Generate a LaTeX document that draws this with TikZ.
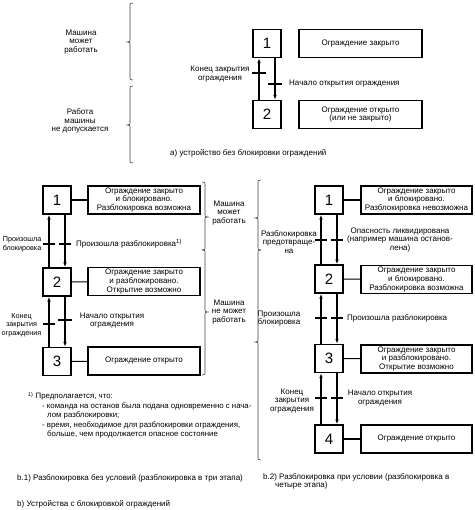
\documentclass[tikz,border=0pt]{standalone}
\usepackage{fontspec}
\setmainfont{Liberation Sans}
\usetikzlibrary{arrows.meta}
\newcommand\BrL[4]{\draw[brc] (#1+3,#2) .. controls (#1,#2) .. (#1,#2+4) -- (#1,#3-4) .. controls (#1,#3) .. (#1-3,#3) .. controls (#1,#3) .. (#1,#3+4) -- (#1,#4-4) .. controls (#1,#4) .. (#1+3,#4);}
\newcommand\BrR[4]{\draw[brc] (#1-3,#2) .. controls (#1,#2) .. (#1,#2+4) -- (#1,#3-4) .. controls (#1,#3) .. (#1+3,#3) .. controls (#1,#3) .. (#1,#3+4) -- (#1,#4-4) .. controls (#1,#4) .. (#1-3,#4);}
\begin{document}
\begin{tikzpicture}[x=1pt,y=-1pt,
  every node/.style={font=\fontsize{8}{8.7}\selectfont, inner sep=0pt},
  stepbox/.style={draw, line width=1.3pt, minimum width=28pt, minimum height=28pt, font=\fontsize{15}{15}\selectfont},
  txtbox/.style={draw, line width=1.3pt, minimum height=28pt, align=center},
  lbl/.style={align=center},
  small/.style={font=\fontsize{7.2}{8.7}\selectfont},
  arr/.style={line width=1.2pt, -{Latex[length=5pt,width=3.6pt]}},
  bar/.style={line width=1.2pt},
  link/.style={line width=1.1pt},
  brc/.style={line width=0.6pt, black!75}]
\useasboundingbox (0,0) rectangle (474,510);

% ---------- a)
\node[stepbox] (a1) at (267,43.5) {1};
\node[stepbox] (a2) at (267,114.5) {2};
\node[txtbox, minimum width=123pt] (ta1) at (360.5,43.5) {Ограждение закрыто};
\node[txtbox, minimum width=123pt] (ta2) at (360.5,114.5) {Ограждение открыто\\(или не закрыто)};
\draw[arr] ([xshift=-8pt]a2.north) -- ([xshift=-8pt]a1.south);
\draw[arr] ([xshift=8pt]a1.south) -- ([xshift=8pt]a2.north);
\draw[bar] (252,73) -- (266,73);
\draw[bar] (268,84) -- (282,84);
\node[lbl] (la1) at (220,74) {Конец закрытия\\ограждения};
\node[anchor=west] (la2) at (289,84) {Начало открытия ограждения};
\BrL{130}{3}{42}{80}
\BrL{130}{86}{125}{163}
\node[lbl] (ma1) at (81,42) {Машина\\может\\работать};
\node[lbl] (ma2) at (80,121) {Работа\\машины\\не допускается};
\node[anchor=west] (capa) at (170,153) {а) устройство без блокировки ограждений};

% ---------- b.1)
\node[stepbox] (p1) at (57,200) {1};
\node[stepbox] (p2) at (57,282) {2};
\node[stepbox] (p3) at (57,361.5) {3};
\node[txtbox, minimum width=112pt] (tp1) at (144,200) {Ограждение закрыто\\и блокировано.\\Разблокировка возможна};
\node[txtbox, minimum width=112pt] (tp2) at (144,281.5) {Ограждение закрыто\\и разблокировано.\\Открытие возможно};
\node[txtbox, minimum width=112pt] (tp3) at (144,361) {Ограждение открыто};
\draw[link] (p1) -- (tp1);
\draw[link] (p2) -- (tp2);
\draw[link] (p3) -- (tp3);
\draw[arr] ([xshift=-8pt]p2.north) -- ([xshift=-8pt]p1.south);
\draw[arr] ([xshift=8pt]p1.south) -- ([xshift=8pt]p2.north);
\draw[arr] ([xshift=-8pt]p3.north) -- ([xshift=-8pt]p2.south);
\draw[arr] ([xshift=8pt]p2.south) -- ([xshift=8pt]p3.north);
\draw[bar] (43,244) -- (55,244);
\draw[bar] (59,244) -- (71,244);
\draw[bar] (43,324) -- (55,324);
\draw[bar] (58,320) -- (72,320);
\node[lbl, small, anchor=east] (lp1) at (41.5,244) {Произошла\\блокировка};
\node[anchor=west] (lp2) at (76,244) {Произошла разблокировка\textsuperscript{1)}};
\node[lbl, small, anchor=east] (lp3) at (41.5,325) {Конец\\закрытия\\ограждения};
\node[lbl] (lp4) at (112,320.5) {Начало открытия\\ограждения};
\BrR{205}{182}{217}{250}
\BrR{205}{250}{312}{375}
\node[lbl] (mb1) at (229,213) {Машина\\может\\работать};
\node[lbl] (mb2) at (229,312) {Машина\\не может\\работать};

% footnote
\node[anchor=north west, align=left, font=\fontsize{7.8}{9.5}\selectfont] (fn) at (28,392)
 {\textsuperscript{1)} Предполагается, что:\\
  \hspace*{14pt}- команда на останов была подана одновременно с нача-\\
  \hspace*{19pt}лом разблокировки;\\
  \hspace*{14pt}- время, необходимое для разблокировки ограждения,\\
  \hspace*{19pt}больше, чем продолжается опасное состояние};

% ---------- b.2)
\node[stepbox] (q1) at (329,200) {1};
\node[stepbox] (q2) at (329,279) {2};
\node[stepbox] (q3) at (329,358.5) {3};
\node[stepbox] (q4) at (329,439) {4};
\node[txtbox, minimum width=111pt] (tq1) at (416.5,200) {Ограждение закрыто\\и блокировано.\\Разблокировка невозможна};
\node[txtbox, minimum width=111pt] (tq2) at (416.5,279.5) {Ограждение закрыто\\и блокировано.\\Разблокировка возможна};
\node[txtbox, minimum width=111pt] (tq3) at (416.5,359) {Ограждение закрыто\\и разблокировано.\\Открытие возможно};
\node[txtbox, minimum width=111pt] (tq4) at (416.5,439) {Ограждение открыто};
\draw[link] (q1) -- (tq1);
\draw[link] (q2) -- (tq2);
\draw[link] (q3) -- (tq3);
\draw[link] (q4) -- (tq4);
\draw[arr] ([xshift=-8pt]q2.north) -- ([xshift=-8pt]q1.south);
\draw[arr] ([xshift=8pt]q1.south) -- ([xshift=8pt]q2.north);
\draw[arr] ([xshift=-8pt]q3.north) -- ([xshift=-8pt]q2.south);
\draw[arr] ([xshift=8pt]q2.south) -- ([xshift=8pt]q3.north);
\draw[arr] ([xshift=-8pt]q4.north) -- ([xshift=-8pt]q3.south);
\draw[arr] ([xshift=8pt]q3.south) -- ([xshift=8pt]q4.north);
\foreach \yy in {240,318,398}{
  \draw[bar] (315,\yy) -- (327,\yy);
  \draw[bar] (331,\yy) -- (343,\yy);
}
\node[lbl] (lq1) at (289,242) {Разблокировка\\предотвраще-\\на};
\node[lbl] (lq2) at (400,240) {Опасность ликвидирована\\(например машина останов-\\лена)};
\node[lbl] (lq3) at (279,318.5) {Произошла\\блокировка};
\node[anchor=west] (lq4) at (347,318) {Произошла разблокировка};
\node[lbl] (lq5) at (292,401) {Конец\\закрытия\\ограждения};
\node[lbl] (lq6) at (380,398) {Начало открытия\\ограждения};
\BrL{258}{180}{218}{250}
\BrL{258}{250}{342}{460}

% captions
\node[anchor=west] (cb1) at (17,478) {b.1) Разблокировка без условий (разблокировка в три этапа)};
\node[anchor=north west, align=left] (cb2) at (263,473) {b.2) Разблокировка при условии (разблокировка в\\\hspace*{12pt}четыре этапа)};
\node[anchor=west] (cb) at (17,504) {b) Устройства с блокировкой ограждений};
\end{tikzpicture}
\end{document}
